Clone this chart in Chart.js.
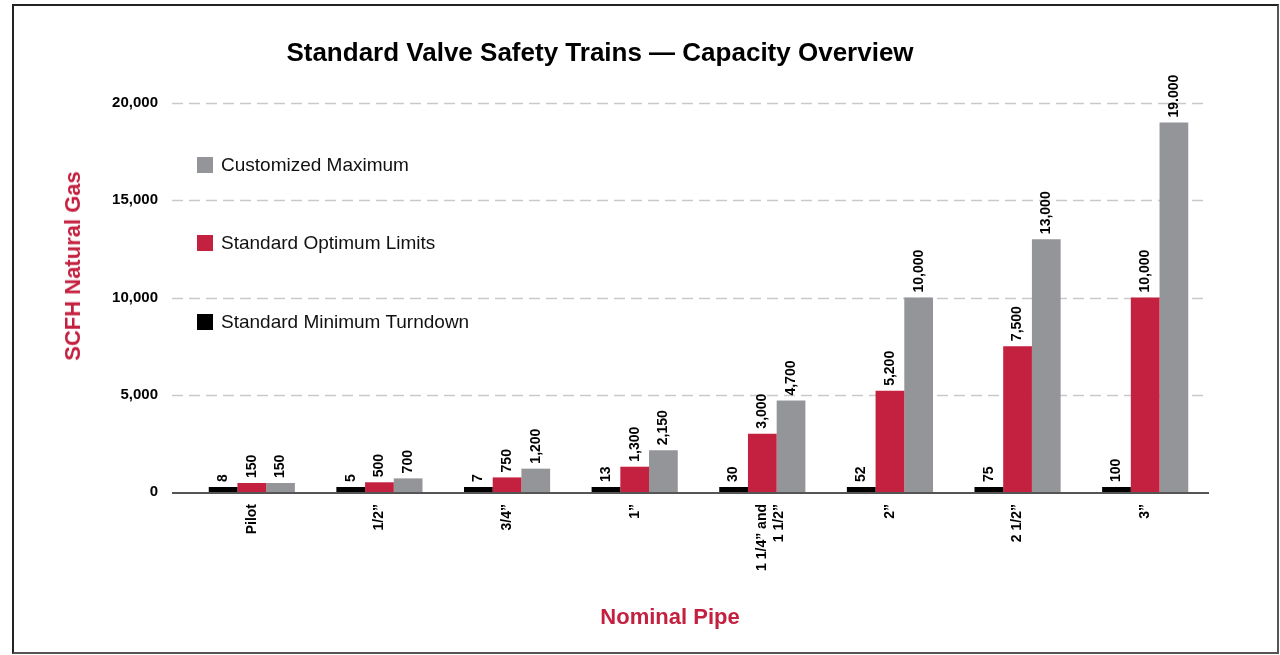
<!DOCTYPE html>
<html>
<head>
<meta charset="utf-8">
<script src="https://cdn.jsdelivr.net/npm/chart.js@4/dist/chart.umd.min.js"></script>
<style>
    html, body { margin: 0; padding: 0; background: #fff; }
    body { width: 1280px; height: 655px; position: relative; overflow: hidden;
           font-family: "Liberation Sans", Arial, Helvetica, sans-serif; }
    #frame { position: absolute; left: 12px; top: 4px; width: 1267px; height: 650px;
             border: 2px solid #222; border-right-color: #555; border-bottom-color: #555;
             box-sizing: border-box; pointer-events: none; }
    #wrap { position: absolute; left: 0; top: 0; width: 1280px; height: 655px; }
    .title { position: absolute; left: 0; width: 1200px; top: 37px; text-align: center;
             font-weight: bold; font-size: 26px; color: #000; }
    .ytitle { position: absolute; left: 73px; top: 266px; transform: translate(-50%, -50%) rotate(-90deg);
              white-space: nowrap; font-weight: bold; font-size: 22px; color: #c4203f; }
    .xtitle { position: absolute; left: 670px; top: 604px; transform: translateX(-50%);
              white-space: nowrap; font-weight: bold; font-size: 22px; color: #c4203f; }
    .legend { position: absolute; left: 197px; top: 0; }
    .legend div { position: absolute; left: 0; white-space: nowrap; font-size: 19px; color: #111;
                  height: 22px; line-height: 22px; }
    .legend span { display: inline-block; width: 16px; height: 16px; vertical-align: -2px; margin-right: 8px; }
</style>
</head>
<body>
<div id="wrap"><canvas id="chart" width="1280" height="655"></canvas></div>
<div class="title">Standard Valve Safety Trains — Capacity Overview</div>
<div class="ytitle">SCFH Natural Gas</div>
<div class="xtitle">Nominal Pipe</div>
<div class="legend" id="legend"></div>
<div id="frame"></div>
<script>
const COLORS = {
    black: '#000000',
    red:   '#c4203f',
    gray:  '#939598',
    grid:  '#c9c9c9',
    base:  '#555555',
};

const categories = ['Pilot', '1/2”', '3/4”', '1”', ['1 1/4” and', '1 1/2”'], '2”', '2 1/2”', '3”'];
const minTurndown = [8, 5, 7, 13, 30, 52, 75, 100];
const optimumLimits = [150, 500, 750, 1300, 3000, 5200, 7500, 10000];
const customMax = [150, 700, 1200, 2150, 4700, 10000, 13000, 19000];
const minLabels = ['8', '5', '7', '13', '30', '52', '75', '100'];
const optLabels = ['150', '500', '750', '1,300', '3,000', '5,200', '7,500', '10,000'];
const maxLabels = ['150', '700', '1,200', '2,150', '4,700', '10,000', '13,000', '19.000'];
const yTicks = [0, 5000, 10000, 15000, 20000];

const FONT = "'Liberation Sans', Arial, Helvetica, sans-serif";
Chart.defaults.font.family = FONT;
Chart.defaults.color = '#000';

// legend as html, positioned like the reference
const legendItems = [
    { label: 'Customized Maximum', color: COLORS.gray, y: 154 },
    { label: 'Standard Optimum Limits', color: COLORS.red, y: 232 },
    { label: 'Standard Minimum Turndown', color: COLORS.black, y: 311 },
];
const legendEl = document.getElementById('legend');
legendItems.forEach(it => {
    const d = document.createElement('div');
    d.style.top = it.y + 'px';
    d.innerHTML = '<span style="background:' + it.color + '"></span>' + it.label;
    legendEl.appendChild(d);
});

// dashed grid lines + solid baseline, extended a little left of the plot
const gridPlugin = {
    id: 'dashGrid',
    beforeDatasetsDraw(chart) {
        const { ctx, chartArea, scales } = chart;
        const x0 = chartArea.left - 16, x1 = chartArea.right;
        ctx.save();
        ctx.strokeStyle = COLORS.grid;
        ctx.lineWidth = 1.5;
        ctx.setLineDash([11, 6]);
        yTicks.forEach(v => {
            if (v === 0) return;
            const y = Math.round(scales.y.getPixelForValue(v)) + 0.5;
            ctx.beginPath(); ctx.moveTo(x0, y); ctx.lineTo(x1, y); ctx.stroke();
        });
        ctx.setLineDash([]);
        ctx.strokeStyle = COLORS.base;
        ctx.lineWidth = 2;
        const yb = scales.y.getPixelForValue(0) + 1;
        ctx.beginPath(); ctx.moveTo(x0, yb); ctx.lineTo(x1, yb); ctx.stroke();
        ctx.restore();
    },
};

// rotated value labels above each bar
const labelSets = [minLabels, optLabels, maxLabels];
const valueLabelPlugin = {
    id: 'valueLabels',
    afterDatasetsDraw(chart) {
        const { ctx } = chart;
        ctx.save();
        ctx.fillStyle = '#000';
        ctx.font = 'bold 14px ' + FONT;
        ctx.textAlign = 'left';
        ctx.textBaseline = 'middle';
        chart.data.datasets.forEach((ds, di) => {
            chart.getDatasetMeta(di).data.forEach((bar, i) => {
                ctx.save();
                ctx.translate(bar.x, bar.y - 5);
                ctx.rotate(-Math.PI / 2);
                ctx.fillText(labelSets[di][i], 0, 0);
                ctx.restore();
            });
        });
        ctx.restore();
    },
};

new Chart(document.getElementById('chart'), {
    type: 'bar',
    data: {
        labels: categories,
        datasets: [
            { label: 'Standard Minimum Turndown', data: minTurndown, backgroundColor: COLORS.black, minBarLength: 5 },
            { label: 'Standard Optimum Limits', data: optimumLimits, backgroundColor: COLORS.red, minBarLength: 9 },
            { label: 'Customized Maximum', data: customMax, backgroundColor: COLORS.gray, minBarLength: 9 },
        ],
    },
    options: {
        responsive: false,
        animation: false,
        layout: { padding: { left: 0, top: 103, right: 71, bottom: 0 } },
        datasets: {
            bar: { categoryPercentage: 0.675, barPercentage: 1.0, borderWidth: 0 },
        },
        plugins: {
            legend: { display: false },
            title: { display: false },
            tooltip: { enabled: false },
        },
        scales: {
            x: {
                grid: { display: false, drawTicks: false },
                border: { display: false },
                ticks: {
                    minRotation: 90, maxRotation: 90, padding: 12,
                    font: { size: 14, weight: 'bold' }, color: '#000',
                },
                afterFit(scale) { scale.height = 163; },
            },
            y: {
                min: 0, max: 20000,
                grid: { display: false, drawTicks: false },
                border: { display: false },
                afterBuildTicks(scale) { scale.ticks = yTicks.map(v => ({ value: v })); },
                ticks: {
                    padding: 30,
                    font: { size: 15, weight: 'bold' }, color: '#000',
                    callback: v => v.toLocaleString('en-US'),
                },
                afterFit(scale) { scale.width = 188; },
            },
        },
    },
    plugins: [gridPlugin, valueLabelPlugin],
});
</script>
</body>
</html>
